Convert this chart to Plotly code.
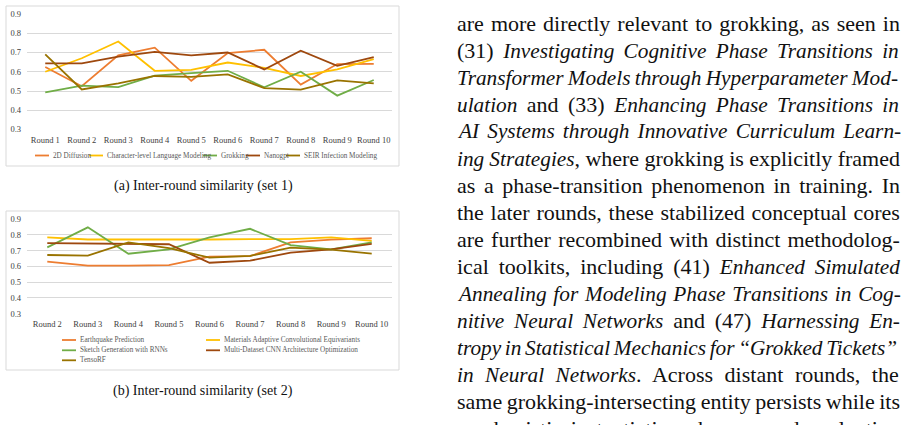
import re
import plotly.graph_objects as go

W, H = 902, 425

# ---------------- data ----------------
rounds_1 = ["Round 1", "Round 2", "Round 3", "Round 4", "Round 5",
            "Round 6", "Round 7", "Round 8", "Round 9", "Round 10"]
names_1 = ["2D Diffusion", "Character-level Language Modeling", "Grokking",
           "Nanogpt", "SEIR Infection Modeling"]
diffusion_2d = [0.625, 0.525, 0.685, 0.725, 0.553, 0.697, 0.714, 0.533, 0.640, 0.641]
char_lm = [0.600, 0.670, 0.757, 0.605, 0.610, 0.648, 0.620, 0.578, 0.612, 0.665]
grokking = [0.493, 0.528, 0.520, 0.580, 0.593, 0.605, 0.519, 0.600, 0.476, 0.557]
nanogpt = [0.643, 0.643, 0.678, 0.703, 0.685, 0.700, 0.612, 0.709, 0.631, 0.676]
seir = [0.690, 0.508, 0.540, 0.578, 0.573, 0.586, 0.515, 0.507, 0.555, 0.540]
series_1 = [diffusion_2d, char_lm, grokking, nanogpt, seir]

rounds_2 = ["Round 2", "Round 3", "Round 4", "Round 5", "Round 6",
            "Round 7", "Round 8", "Round 9", "Round 10"]
names_2 = ["Earthquake Prediction", "Materials Adaptive Convolutional Equivariants",
           "Sketch Generation with RNNs", "Multi-Dataset CNN Architecture Optimization",
           "TensoRF"]
earthquake = [0.630, 0.604, 0.604, 0.608, 0.661, 0.665, 0.752, 0.769, 0.778]
materials = [0.783, 0.770, 0.770, 0.768, 0.770, 0.772, 0.772, 0.783, 0.762]
sketch = [0.720, 0.847, 0.680, 0.707, 0.784, 0.838, 0.735, 0.707, 0.752]
multi_cnn = [0.747, 0.745, 0.740, 0.740, 0.623, 0.636, 0.687, 0.707, 0.742]
tensorf = [0.672, 0.668, 0.752, 0.715, 0.655, 0.666, 0.719, 0.706, 0.680]
series_2 = [earthquake, materials, sketch, multi_cnn, tensorf]

y_ticks = [0.3, 0.4, 0.5, 0.6, 0.7, 0.8, 0.9]
captions = ["(a) Inter-round similarity (set 1)", "(b) Inter-round similarity (set 2)"]

body_lines = [
    "are more directly relevant to grokking, as seen in",
    "(31) <i>Investigating Cognitive Phase Transitions in</i>",
    "<i>Transformer Models through Hyperparameter Mod-</i>",
    "<i>ulation</i> and (33) <i>Enhancing Phase Transitions in</i>",
    "<i>AI Systems through Innovative Curriculum Learn-</i>",
    "<i>ing Strategies</i>, where grokking is explicitly framed",
    "as a phase-transition phenomenon in training. In",
    "the later rounds, these stabilized conceptual cores",
    "are further recombined with distinct methodolog-",
    "ical toolkits, including (41) <i>Enhanced Simulated</i>",
    "<i>Annealing for Modeling Phase Transitions in Cog-</i>",
    "<i>nitive Neural Networks</i> and (47) <i>Harnessing En-</i>",
    "<i>tropy in Statistical Mechanics for \u201cGrokked Tickets\u201d</i>",
    "<i>in Neural Networks</i>. Across distant rounds, the",
    "same grokking-intersecting entity persists while its",
    "mechanistic instantiation changes and evaluation",
]

# ---------------- styles ----------------
colors = ["#ED7D31", "#FFC000", "#70AD47", "#9E480E", "#997300"]
SERIF = "Liberation Serif, Times New Roman, serif"
GRID = "#D9D9D9"
LABEL = "#595959"
ROMAN_SIZE = 22.0
ITALIC_SIZE = 21.3
BODY_LEFT, BODY_RIGHT = 455, 898

# Times (Liberation Serif compatible) advance widths, per 1000 em
_ROMAN = dict(zip(
    " !\"'(),-./0123456789:;?" "ABCDEFGHIJKLMNOPQRSTUVWXYZ" "abcdefghijklmnopqrstuvwxyz",
    [250, 333, 408, 333, 333, 333, 250, 333, 250, 278] + [500] * 10 + [278, 278, 444]
    + [722, 667, 667, 722, 611, 556, 722, 722, 333, 389, 722, 611, 889, 722, 722, 556,
       722, 667, 556, 611, 722, 722, 944, 722, 722, 611]
    + [444, 500, 444, 500, 444, 333, 500, 500, 278, 278, 500, 278, 778, 500, 500, 500,
       500, 333, 389, 278, 500, 500, 722, 500, 500, 444]))
_ROMAN.update({"\u201c": 444, "\u201d": 444})
_ITALIC = dict(zip(
    " !\"'(),-./0123456789:;?" "ABCDEFGHIJKLMNOPQRSTUVWXYZ" "abcdefghijklmnopqrstuvwxyz",
    [250, 333, 420, 333, 333, 333, 250, 333, 250, 278] + [500] * 10 + [333, 333, 500]
    + [611, 611, 667, 722, 611, 611, 722, 722, 333, 444, 667, 556, 833, 667, 722, 611,
       722, 611, 500, 556, 722, 611, 833, 611, 556, 556]
    + [500, 500, 444, 500, 444, 278, 500, 500, 278, 278, 444, 278, 722, 500, 500, 500,
       500, 389, 389, 278, 500, 444, 667, 444, 444, 389]))
_ITALIC.update({"\u201c": 556, "\u201d": 556})


def split_runs(line):
    runs = []
    italic = False
    for part in re.split(r"(</?i>)", line):
        if part == "<i>":
            italic = True
        elif part == "</i>":
            italic = False
        elif part:
            runs.append((part, italic))
    return runs


def natural_width(runs):
    total = 0.0
    for text, italic in runs:
        table, size = (_ITALIC, ITALIC_SIZE) if italic else (_ROMAN, ROMAN_SIZE)
        total += sum(table.get(ch, 500) for ch in text) * size / 1000.0
    return total


def justified(line, target):
    runs = split_runs(line)
    n_sp = sum(t.count(" ") for t, _ in runs)
    extra = (target - natural_width(runs)) / max(n_sp, 1)
    inner = ""
    for text, italic in runs:
        if italic:
            inner += '<i><span style="font-size:%.1fpx">%s</span></i>' % (ITALIC_SIZE, text)
        else:
            inner += text
    return '<span style="word-spacing:%.2fpx">%s</span>' % (extra, inner)


def px(x):
    return x / W


def py(y):
    return 1 - y / H


fig = go.Figure()

for name, vals, c in zip(names_1, series_1, colors):
    fig.add_trace(go.Scatter(x=rounds_1, y=vals, name=name, mode="lines",
                             line=dict(color=c, width=1.8), xaxis="x", yaxis="y",
                             showlegend=False))
for name, vals, c in zip(names_2, series_2, colors):
    fig.add_trace(go.Scatter(x=rounds_2, y=vals, name=name, mode="lines",
                             line=dict(color=c, width=1.8), xaxis="x2", yaxis="y2",
                             showlegend=False))

axis_x = dict(showgrid=False, zeroline=False, showline=False, ticks="",
              tickfont=dict(family=SERIF, size=8.5, color="#404040"),
              ticklabelstandoff=4, fixedrange=True, automargin=False)
axis_y = dict(range=[0.3, 0.9], tickvals=y_ticks, tickformat=".1f",
              showgrid=True, gridcolor=GRID, gridwidth=1, zeroline=False,
              showline=False, ticks="", ticklabelstandoff=5,
              tickfont=dict(family=SERIF, size=8.5, color="#404040"),
              fixedrange=True, automargin=False)

shapes = []
annotations = []

# chart frames
for (x0, y0, x1, y1) in [(6, 6, 399, 166), (6, 211, 399, 370)]:
    shapes.append(dict(type="rect", xref="paper", yref="paper",
                       x0=px(x0), x1=px(x1), y0=py(y1), y1=py(y0),
                       line=dict(color="#D9D9D9", width=1), fillcolor="rgba(0,0,0,0)",
                       layer="below"))

# legend 1 (one row)
leg1_x = [35, 89, 203, 246, 286]
leg1_y = 155.5
for name, c, lx in zip(names_1, colors, leg1_x):
    shapes.append(dict(type="line", xref="paper", yref="paper",
                       x0=px(lx), x1=px(lx + 14), y0=py(leg1_y), y1=py(leg1_y),
                       line=dict(color=c, width=1.8)))
    annotations.append(dict(text=name, xref="paper", yref="paper",
                            x=px(lx + 16), y=py(leg1_y), xanchor="left", yanchor="middle",
                            showarrow=False,
                            font=dict(family=SERIF, size=7.2, color=LABEL)))

# legend 2 (two columns)
leg2_pos = [(62, 340), (206, 340), (62, 350.3), (206, 350.3), (62, 360.3)]
for name, c, (lx, ly) in zip(names_2, colors, leg2_pos):
    shapes.append(dict(type="line", xref="paper", yref="paper",
                       x0=px(lx), x1=px(lx + 14), y0=py(ly), y1=py(ly),
                       line=dict(color=c, width=1.8)))
    annotations.append(dict(text=name, xref="paper", yref="paper",
                            x=px(lx + 16), y=py(ly), xanchor="left", yanchor="middle",
                            showarrow=False,
                            font=dict(family=SERIF, size=7.2, color=LABEL)))

# captions
for cap, cy in zip(captions, [186, 391]):
    annotations.append(dict(text=cap, xref="paper", yref="paper",
                            x=px(203), y=py(cy), xanchor="center", yanchor="middle",
                            showarrow=False, font=dict(family=SERIF, size=14, color="#111111")))

# body text (justified)
for i, line in enumerate(body_lines):
    annotations.append(dict(text=justified(line, BODY_RIGHT - BODY_LEFT),
                            xref="paper", yref="paper",
                            x=px(BODY_LEFT), y=py(23.5 + 27.0 * i), xanchor="left",
                            yanchor="middle", showarrow=False,
                            font=dict(family=SERIF, size=ROMAN_SIZE, color="#111111")))

fig.update_layout(
    width=W, height=H,
    margin=dict(l=0, r=0, t=0, b=0, autoexpand=False),
    paper_bgcolor="white", plot_bgcolor="white",
    showlegend=False,
    xaxis=dict(axis_x, domain=[px(27), px(392)], anchor="y", range=[-0.5, 9.5]),
    yaxis=dict(axis_y, domain=[py(129.5), py(14)], anchor="x"),
    xaxis2=dict(axis_x, domain=[px(27), px(392)], anchor="y2", range=[-0.5, 8.5]),
    yaxis2=dict(axis_y, domain=[py(313.7), py(219)], anchor="x2"),
    shapes=shapes,
    annotations=annotations,
)

fig.write_html("out.html")
